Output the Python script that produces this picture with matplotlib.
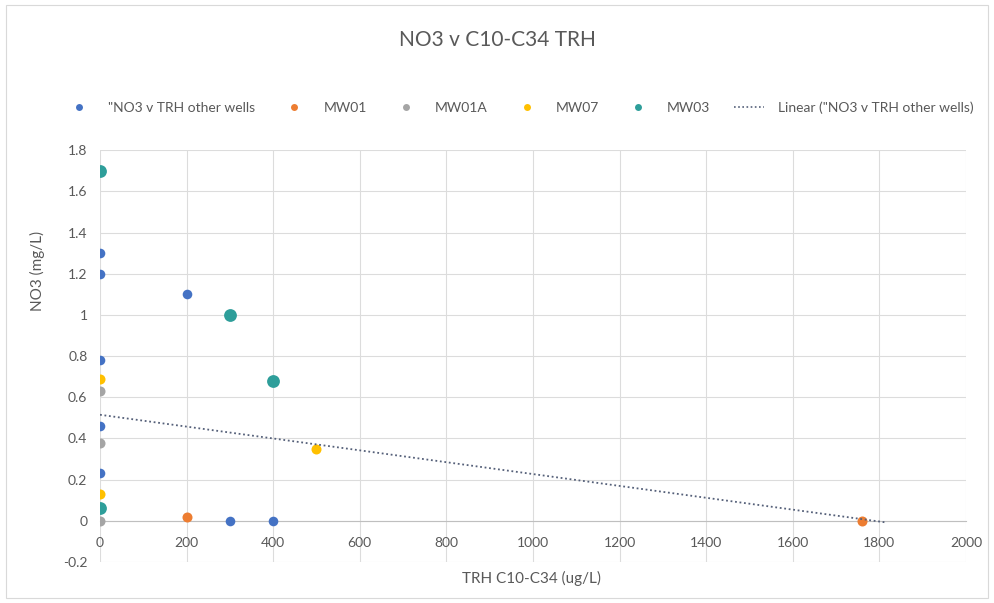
import matplotlib.pyplot as plt
import numpy as np
from matplotlib.ticker import FuncFormatter
from matplotlib.lines import Line2D
from matplotlib.patches import Rectangle

# values
other_x = [0, 0, 200, 0, 0, 0, 300, 400]
other_y = [1.3, 1.2, 1.1, 0.78, 0.46, 0.23, 0, 0]
mw01_x = [200, 1760]
mw01_y = [0.02, 0]
mw01a_x = [0, 0, 0]
mw01a_y = [0.63, 0.38, 0]
mw07_x = [0, 0, 500]
mw07_y = [0.69, 0.13, 0.35]
mw03_x = [0, 300, 400, 0]
mw03_y = [1.7, 1.0, 0.68, 0.06]
# linear trend of "other wells" as drawn (intercept, slope, x range)
trend_b = 0.515
trend_m = -0.000288
trend_x = [0, 1815]

series_names = ['"NO3 v TRH other wells', 'MW01', 'MW01A', 'MW07', 'MW03']
series_colors = ['#4472C4', '#ED7D31', '#A5A5A5', '#FFC000', '#2E9E9A']
text_col = '#595959'
font = 'Lato'

fig = plt.figure(figsize=(9.94, 6.03), dpi=100)
fig.patches.append(Rectangle((0.006, 0.008), 0.988, 0.984, transform=fig.transFigure,
                             fill=False, edgecolor='#d9d9d9', lw=0.8))
ax = fig.add_axes([0.1006, 0.068, 0.8712, 0.683])

xs = [other_x, mw01_x, mw01a_x, mw07_x, mw03_x]
ys = [other_y, mw01_y, mw01a_y, mw07_y, mw03_y]
sizes = [48, 52, 52, 52, 85]
for x, y, c, s in zip(xs, ys, series_colors, sizes):
    ax.scatter(x, y, s=s, color=c, zorder=3, linewidths=0)

tx = np.array(trend_x)
ax.plot(tx, trend_b + trend_m * tx, ls=(0, (1, 1.5)), color='#556079', lw=1.3, zorder=4)

ax.set_xlim(0, 2000)
ax.set_ylim(-0.2, 1.8)
ax.set_xticks(np.arange(0, 2001, 200))
ax.set_yticks(np.arange(-0.2, 1.81, 0.2))
ax.yaxis.set_major_formatter(FuncFormatter(lambda v, p: '%g' % round(v, 1)))
ax.grid(True, color='#dcdcdc', lw=0.8, zorder=0)
ax.set_axisbelow(True)
for sp in ['top', 'right', 'left']:
    ax.spines[sp].set_visible(False)
ax.spines['bottom'].set_position(('data', 0))
ax.spines['bottom'].set_color('#bfbfbf')
ax.tick_params(length=0, labelsize=10, labelcolor=text_col)
ax.tick_params(axis='x', pad=12)
ax.tick_params(axis='y', pad=9)
for lab in ax.get_xticklabels() + ax.get_yticklabels():
    lab.set_family(font)

fig.text(0.038, 0.55, 'NO3 (mg/L)', ha='center', va='center', rotation=90,
         fontsize=11, color=text_col, family=font)
fig.text(0.535, 0.041, 'TRH C10-C34 (ug/L)', ha='center', va='center',
         fontsize=11, color=text_col, family=font)
fig.text(0.5, 0.933, 'NO3 v C10-C34 TRH', ha='center', va='center',
         fontsize=15, color=text_col, family=font)

handles = [Line2D([], [], ls='none', marker='o', ms=5, color=c, markeredgewidth=0)
           for c in series_colors]
handles.append(Line2D([], [], ls=(0, (1, 1.5)), color='#556079', lw=1.2))
labels = series_names + ['Linear ("NO3 v TRH other wells)']
fig.legend(handles, labels, loc='center', bbox_to_anchor=(0.522, 0.821), ncol=6,
           frameon=False, prop={'family': font, 'size': 10}, labelcolor=text_col,
           handlelength=2.2, columnspacing=1.7, handletextpad=1.0)

plt.savefig('out.png', dpi=100)
